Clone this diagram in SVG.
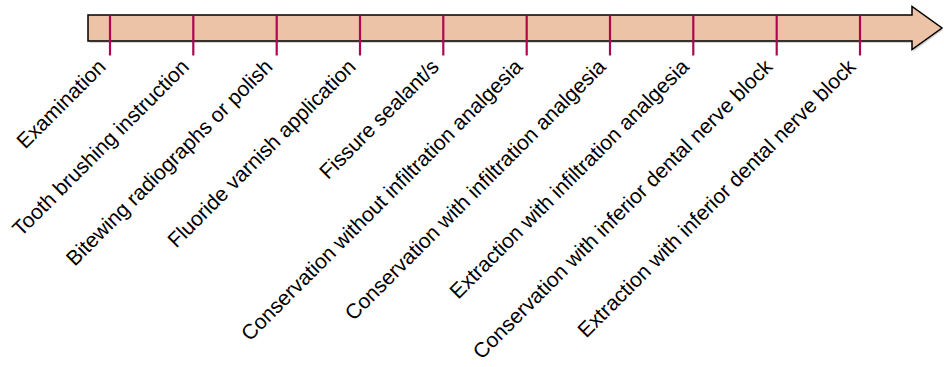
<svg xmlns="http://www.w3.org/2000/svg" width="944" height="367" viewBox="0 0 944 367">
<style>
.lbl{font-family:"Liberation Sans",Arial,sans-serif;font-size:21px;fill:#000;text-anchor:end}
.tick{stroke:#b0064f;stroke-width:2.2}
</style>
<rect width="944" height="367" fill="#fff"/>
<g id="arrow">
<polygon points="89.5,17.5 913.5,17.5 913.5,9 943,30 913.5,51.5 913.5,43 89.5,43" fill="#b5b5b5" opacity="0.6"/>
<polygon points="88,15 912,15 912,6.5 942,28 912,49.5 912,41 88,41" fill="#ecc3a6" stroke="#000" stroke-width="1.5" stroke-linejoin="miter"/>
</g>
<g id="connectors">
<line class="tick" x1="110" y1="15.7" x2="110" y2="55.5"/>
<line class="tick" x1="193.3" y1="15.7" x2="193.3" y2="55.5"/>
<line class="tick" x1="276.7" y1="15.7" x2="276.7" y2="55.5"/>
<line class="tick" x1="360" y1="15.7" x2="360" y2="55.5"/>
<line class="tick" x1="443.3" y1="15.7" x2="443.3" y2="55.5"/>
<line class="tick" x1="526.7" y1="15.7" x2="526.7" y2="55.5"/>
<line class="tick" x1="610" y1="15.7" x2="610" y2="55.5"/>
<line class="tick" x1="693.3" y1="15.7" x2="693.3" y2="55.5"/>
<line class="tick" x1="776.7" y1="15.7" x2="776.7" y2="55.5"/>
<line class="tick" x1="860" y1="15.7" x2="860" y2="55.5"/>
</g>
<g id="n1"><text class="lbl" transform="translate(107,68) rotate(-45)">Examination</text></g>
<g id="n2"><text class="lbl" transform="translate(190.3,68) rotate(-45)">Tooth brushing instruction</text></g>
<g id="n3"><text class="lbl" transform="translate(273.7,68) rotate(-45)">Bitewing radiographs or polish</text></g>
<g id="n4"><text class="lbl" transform="translate(357,68) rotate(-45)">Fluoride varnish application</text></g>
<g id="n5"><text class="lbl" transform="translate(440.3,68) rotate(-45)">Fissure sealant/s</text></g>
<g id="n6"><text class="lbl" transform="translate(523.7,68) rotate(-45)">Conservation without infiltration analgesia</text></g>
<g id="n7"><text class="lbl" transform="translate(607,68) rotate(-45)">Conservation with infiltration analgesia</text></g>
<g id="n8"><text class="lbl" transform="translate(690.3,68) rotate(-45)">Extraction with infiltration analgesia</text></g>
<g id="n9"><text class="lbl" transform="translate(773.7,68) rotate(-45)">Conservation with inferior dental nerve block</text></g>
<g id="n10"><text class="lbl" transform="translate(857,68) rotate(-45)">Extraction with inferior dental nerve block</text></g>
</svg>
